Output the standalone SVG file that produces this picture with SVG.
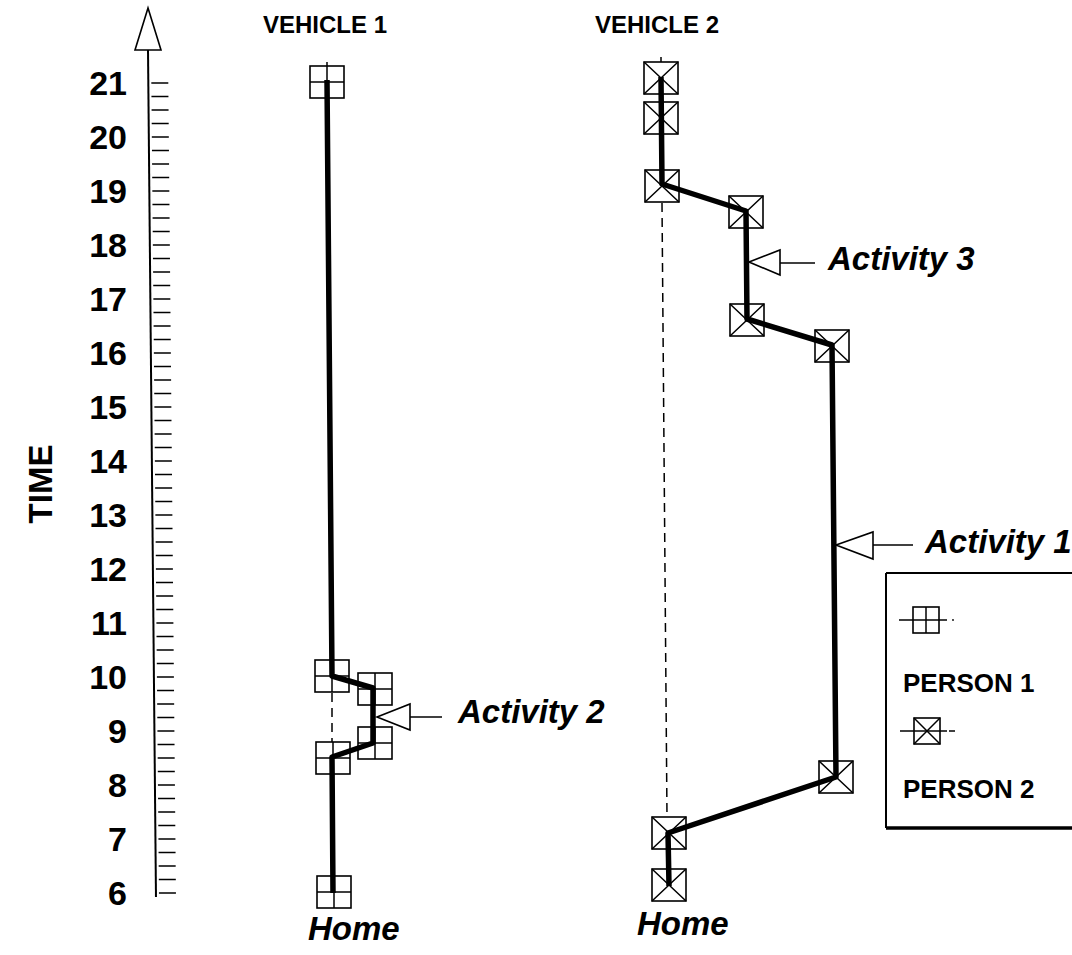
<svg xmlns="http://www.w3.org/2000/svg" width="1072" height="955" viewBox="0 0 1072 955">
<defs>
<style>
.t{font-family:"Liberation Sans",Arial,sans-serif;font-weight:bold;fill:#000}
.lab{font-size:34px}
.act{font-size:33px;font-style:italic}
.title{font-size:24px}
.leg{font-size:26px}
.box{fill:#fff;stroke:#000;stroke-width:1.6}
.thin{stroke:#000;stroke-width:1.5;fill:none}
.thick{stroke:#000;stroke-width:5.5;fill:none;stroke-linejoin:round}
.dash{stroke:#000;stroke-width:1.5;stroke-dasharray:9,6;fill:none}
.tri{fill:#fff;stroke:#000;stroke-width:1.6}
</style>
<g id="p1">
<rect class="box" x="-17" y="-16" width="34" height="32"/>
<path class="thin" d="M0,-16V16M-17,0H17"/>
</g>
<g id="p2">
<rect class="box" x="-17" y="-16" width="34" height="32"/>
<path class="thin" d="M-17,-16L17,16M17,-16L-17,16"/>
</g>
</defs>
<rect width="1072" height="955" fill="#fff"/>

<g id="axis">
<polygon class="tri" points="148,8 135,50 161,50"/>
<g transform="translate(148,50) skewX(0.54) translate(-148,-50)">
<line class="thin" x1="148" y1="50" x2="148" y2="897" style="stroke-width:2"/>
<path class="thin" d="M151,83H168M151,96.5H168M151,110H168M151,123.5H168M151,137H168M151,150.5H168M151,164H168M151,177.5H168M151,191H168M151,204.5H168M151,218H168M151,231.5H168M151,245H168M151,258.5H168M151,272H168M151,285.5H168M151,299H168M151,312.5H168M151,326H168M151,339.5H168M151,353H168M151,366.5H168M151,380H168M151,393.5H168M151,407H168M151,420.5H168M151,434H168M151,447.5H168M151,461H168M151,474.5H168M151,488H168M151,501.5H168M151,515H168M151,528.5H168M151,542H168M151,555.5H168M151,569H168M151,582.5H168M151,596H168M151,609.5H168M151,623H168M151,636.5H168M151,650H168M151,663.5H168M151,677H168M151,690.5H168M151,704H168M151,717.5H168M151,731H168M151,744.5H168M151,758H168M151,771.5H168M151,785H168M151,798.5H168M151,812H168M151,825.5H168M151,839H168M151,852.5H168M151,866H168M151,879.5H168M151,893H168"/>
</g>
<g class="t lab" text-anchor="end">
<text x="127" y="95">21</text>
<text x="127" y="149">20</text>
<text x="127" y="203">19</text>
<text x="127" y="257">18</text>
<text x="127" y="311">17</text>
<text x="127" y="365">16</text>
<text x="127" y="419">15</text>
<text x="127" y="473">14</text>
<text x="127" y="527">13</text>
<text x="127" y="581">12</text>
<text x="127" y="635">11</text>
<text x="127" y="689">10</text>
<text x="127" y="743">9</text>
<text x="127" y="797">8</text>
<text x="127" y="851">7</text>
<text x="127" y="905">6</text>
</g>
<text class="t lab" transform="translate(52,484) rotate(-90)" text-anchor="middle" style="font-size:33px">TIME</text>
</g>

<g id="titles">
<text class="t title" x="325" y="33" text-anchor="middle">VEHICLE 1</text>
<text class="t title" x="657" y="33" text-anchor="middle">VEHICLE 2</text>
<text class="t act" x="308" y="940">Home</text>
<text class="t act" x="637" y="935">Home</text>
</g>

<g id="connectors">
<line class="thin" x1="327" y1="62" x2="327" y2="80"/>
<line class="dash" x1="332" y1="693" x2="332" y2="742"/>
<line class="thin" x1="661" y1="57" x2="661" y2="77"/>
<line class="dash" x1="662" y1="203" x2="667" y2="817"/>
</g>

<g id="vehicle1-nodes">
<use id="v1-21" href="#p1" x="327" y="82"/>
<use id="v1-10" href="#p1" x="332" y="676"/>
<use id="v1-975" href="#p1" x="375" y="689"/>
<use id="v1-875" href="#p1" x="375" y="743"/>
<use id="v1-85" href="#p1" x="333" y="758"/>
<use id="v1-6" href="#p1" x="334" y="892"/>
</g>

<g id="vehicle2-nodes">
<use id="v2-a" href="#p2" x="661" y="78"/>
<use id="v2-b" href="#p2" x="661" y="118"/>
<use id="v2-c" href="#p2" x="662" y="186"/>
<use id="v2-d" href="#p2" x="746" y="212"/>
<use id="v2-e" href="#p2" x="747" y="320"/>
<use id="v2-f" href="#p2" x="832" y="346"/>
<use id="v2-g" href="#p2" x="836" y="777"/>
<use id="v2-h" href="#p2" x="669" y="833"/>
<use id="v2-i" href="#p2" x="669" y="885"/>
</g>

<g id="paths">
<path class="thick" d="M327,80 L332,676 L373,688 L373,743 L332,757 L333,893"/>
<path class="thick" d="M661,77 L662,184 L746,211 L747,319 L832,345 L836,777 L668,833 L669,886"/>
</g>

<g id="activity2">
<polygon class="tri" points="377,717 410,704 410,730"/>
<line class="thin" x1="410" y1="717" x2="442" y2="717"/>
<text class="t act" x="458" y="723">Activity 2</text>
</g>
<g id="activity3">
<polygon class="tri" points="749,262 780,250 780,275"/>
<line class="thin" x1="780" y1="263" x2="815" y2="263"/>
<text class="t act" x="828" y="270">Activity 3</text>
</g>
<g id="activity1">
<polygon class="tri" points="836,545 873,532 873,559"/>
<line class="thin" x1="873" y1="545" x2="913" y2="545"/>
<text class="t act" x="925" y="553">Activity 1</text>
</g>

<g id="legend">
<path class="thin" d="M886,573V828M886,573H1072" style="stroke-width:2"/>
<line x1="886" y1="828" x2="1072" y2="828" stroke="#000" stroke-width="3.5"/>
<line class="thin" x1="899" y1="620" x2="947" y2="620"/>
<rect class="box" x="913" y="607" width="26" height="26" style="fill:none"/>
<path class="thin" d="M926,607V633"/>
<circle cx="953" cy="620" r="0.9" fill="#000"/>
<text class="t leg" x="903" y="692">PERSON 1</text>
<line class="thin" x1="900" y1="731" x2="947" y2="731"/>
<rect class="box" x="914" y="718" width="26" height="26" style="fill:none"/>
<path class="thin" d="M914,718L940,744M940,718L914,744"/>
<line class="thin" x1="949" y1="731" x2="955" y2="731"/>
<text class="t leg" x="903" y="798">PERSON 2</text>
</g>
</svg>
